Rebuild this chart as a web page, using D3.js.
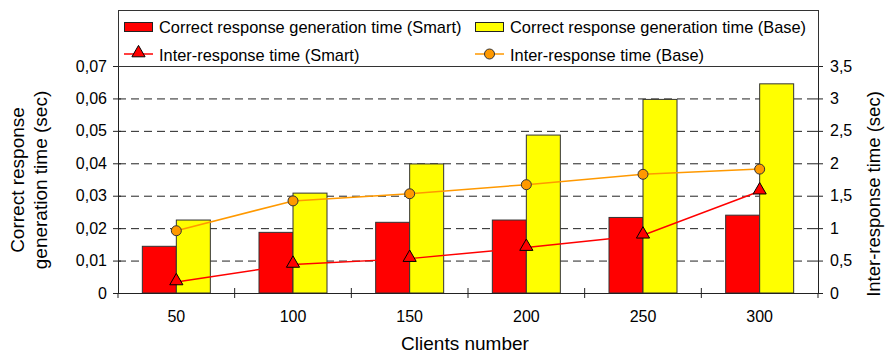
<!DOCTYPE html>
<html><head><meta charset="utf-8">
<script src="https://cdn.jsdelivr.net/npm/d3@7/dist/d3.min.js"></script>
<style>body{margin:0;background:#fff}svg{display:block;font-family:"Liberation Sans",Arial,sans-serif}</style>
</head><body><svg id="c" width="886" height="354"></svg>
<script>
const categories = ["50","100","150","200","250","300"];
const genSmart = [0.0144,0.0187,0.0218,0.0225,0.0233,0.0240];
const genBase = [0.0225,0.0308,0.0398,0.0487,0.0597,0.0645];
const interSmart = [0.17,0.44,0.53,0.70,0.89,1.57];
const interBase = [0.96,1.42,1.53,1.67,1.83,1.91];
const leftTicks = [0,0.01,0.02,0.03,0.04,0.05,0.06,0.07];
const rightTicks = [0,0.5,1,1.5,2,2.5,3,3.5];
const fmt = v => String(v).replace(".", ",");

const svg = d3.select("#c");
const L=118,R=818,T=66,B=293;
const x = d3.scaleBand().domain(categories).range([L,R]);
const yL = d3.scaleLinear().domain([0,0.07]).range([B,T]);
const yR = d3.scaleLinear().domain([0,3.5]).range([B,T]);
const bw = 34;

// grid
svg.append("g").selectAll("line").data(leftTicks.slice(1,-1)).join("line")
  .attr("x1",L).attr("x2",R).attr("y1",d=>yL(d)+0.5).attr("y2",d=>yL(d)+0.5)
  .attr("stroke","#222").attr("stroke-dasharray","8,5");

// bars
const g = svg.append("g");
g.selectAll(".bs").data(categories).join("rect")
  .attr("x",(d)=>x(d)+x.bandwidth()/2-bw).attr("width",bw)
  .attr("y",(d,i)=>yL(genSmart[i])).attr("height",(d,i)=>B-yL(genSmart[i]))
  .attr("fill","#ff0000").attr("stroke","#333").attr("stroke-width",1);
g.selectAll(".bb").data(categories).join("rect")
  .attr("x",(d)=>x(d)+x.bandwidth()/2).attr("width",bw)
  .attr("y",(d,i)=>yL(genBase[i])).attr("height",(d,i)=>B-yL(genBase[i]))
  .attr("fill","#ffff00").attr("stroke","#333").attr("stroke-width",1);

// lines
const cx = d=>x(d)+x.bandwidth()/2;
const lineB = d3.line().x((d,i)=>cx(categories[i])).y(d=>yR(d));
svg.append("path").attr("d",lineB(interBase)).attr("fill","none").attr("stroke","#ff9900").attr("stroke-width",1.5);
svg.append("path").attr("d",lineB(interSmart)).attr("fill","none").attr("stroke","#ff0000").attr("stroke-width",1.5);
const tri = d3.symbol().type(d3.symbolTriangle).size(75);
svg.append("g").selectAll("path").data(interSmart).join("path")
  .attr("d",tri).attr("transform",(d,i)=>`translate(${cx(categories[i])},${yR(d)-1})`)
  .attr("fill","#ff0000").attr("stroke","#000").attr("stroke-width",1);
svg.append("g").selectAll("circle").data(interBase).join("circle")
  .attr("cx",(d,i)=>cx(categories[i])).attr("cy",d=>yR(d)).attr("r",5)
  .attr("fill","#ff9900").attr("stroke","#333").attr("stroke-width",1);

// axes
const axL = d3.axisLeft(yL).tickValues(leftTicks).tickFormat(fmt).tickSizeInner(5).tickSizeOuter(0).tickPadding(6);
const axR = d3.axisRight(yR).tickValues(rightTicks).tickFormat(fmt).tickSizeInner(5).tickSizeOuter(0).tickPadding(7);
const axB = d3.axisBottom(x).tickSize(0).tickPadding(18);
const gl = svg.append("g").attr("transform",`translate(${L},0)`).call(axL);
const gr = svg.append("g").attr("transform",`translate(${R},0)`).call(axR);
const gb = svg.append("g").attr("transform",`translate(0,${B})`).call(axB);
[gl,gr,gb].forEach(a=>{a.selectAll("text").attr("font-size",16).attr("fill","#000").attr("font-family","Liberation Sans, Arial, sans-serif");
  a.selectAll("path,line").attr("stroke","#222");});
gl.selectAll(".tick line").attr("x2",-5).attr("x1",3);
gr.selectAll(".tick line").attr("x1",-3);
// x tick marks at band boundaries
svg.append("g").selectAll("line").data(categories.slice(0,-1)).join("line")
  .attr("x1",d=>x(d)+x.bandwidth()).attr("x2",d=>x(d)+x.bandwidth())
  .attr("y1",B-5).attr("y2",B+5).attr("stroke","#222");
svg.append("g").selectAll("line").data([L,R]).join("line")
  .attr("x1",d=>d).attr("x2",d=>d).attr("y1",B).attr("y2",B+5).attr("stroke","#222");

// titles
svg.append("text").attr("x",465).attr("y",350).attr("text-anchor","middle").attr("font-size",19).text("Clients number");
const lt = svg.append("text").attr("transform","translate(24,180) rotate(-90)").attr("text-anchor","middle").attr("font-size",19);
lt.append("tspan").attr("x",0).attr("dy",0).text("Correct response");
lt.append("tspan").attr("x",0).attr("dy",23).text("generation time (sec)");
svg.append("text").attr("transform","translate(880,194) rotate(-90)").attr("text-anchor","middle").attr("font-size",18.5).text("Inter-response time (sec)");

// legend
const lg = svg.append("g");
lg.append("rect").attr("x",L+0.5).attr("y",10.5).attr("width",R-L).attr("height",T-10).attr("fill","#fff").attr("stroke","#333");
const legendItems = [
 {label:"Correct response generation time (Smart)", kind:"bar", color:"#ff0000", x:124, y:28},
 {label:"Correct response generation time (Base)", kind:"bar", color:"#ffff00", x:475, y:28},
 {label:"Inter-response time (Smart)", kind:"tri", color:"#ff0000", x:124, y:56},
 {label:"Inter-response time (Base)", kind:"circ", color:"#ff9900", x:475, y:56}
];
legendItems.forEach(it=>{
  if(it.kind==="bar"){
    lg.append("rect").attr("x",it.x+0.5).attr("y",it.y-5.5).attr("width",28).attr("height",9).attr("fill",it.color).attr("stroke","#222");
  } else {
    lg.append("line").attr("x1",it.x).attr("x2",it.x+29).attr("y1",it.y-2).attr("y2",it.y-2).attr("stroke",it.color).attr("stroke-width",1.5);
    if(it.kind==="tri") lg.append("path").attr("d",tri).attr("transform",`translate(${it.x+14.5},${it.y-3})`).attr("fill",it.color).attr("stroke","#000");
    else lg.append("circle").attr("cx",it.x+14.5).attr("cy",it.y-2).attr("r",5).attr("fill",it.color).attr("stroke","#333");
  }
  lg.append("text").attr("x",it.x+35).attr("y",it.y+5).attr("font-size",16.4).text(it.label);
});
</script></body></html>
